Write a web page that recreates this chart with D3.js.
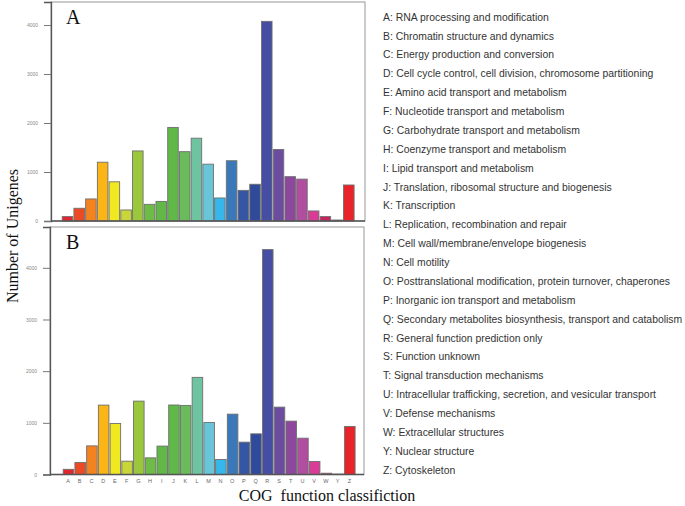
<!DOCTYPE html>
<html>
<head>
<meta charset="utf-8">
<script src="https://cdn.jsdelivr.net/npm/d3@7"></script>
<style>
  body { margin: 0; background: #fff; }
  svg { display: block; }
</style>
</head>
<body>
<div id="chart"></div>
<script>
// COG categories and their descriptions
const categories = ['A','B','C','D','E','F','G','H','I','J','K','L','M','N','O','P','Q','R','S','T','U','V','W','Y','Z'];
const descriptions = [
  'RNA processing and modification',
  'Chromatin structure and dynamics',
  'Energy production and conversion',
  'Cell cycle control, cell division, chromosome partitioning',
  'Amino acid transport and metabolism',
  'Nucleotide transport and metabolism',
  'Carbohydrate transport and metabolism',
  'Coenzyme transport and metabolism',
  'Lipid transport and metabolism',
  'Translation, ribosomal structure and biogenesis',
  'Transcription',
  'Replication, recombination and repair',
  'Cell wall/membrane/envelope biogenesis',
  'Cell motility',
  'Posttranslational modification, protein turnover, chaperones',
  'Inorganic ion transport and metabolism',
  'Secondary metabolites biosynthesis, transport and catabolism',
  'General function prediction only',
  'Function unknown',
  'Signal transduction mechanisms',
  'Intracellular trafficking, secretion, and vesicular transport',
  'Defense mechanisms',
  'Extracellular structures',
  'Nuclear structure',
  'Cytoskeleton'
];

// Number of unigenes per category
const valuesA = [90, 260, 450, 1200, 800, 225, 1430, 340, 400, 1910, 1415, 1690, 1160, 470, 1230, 625, 750, 4075, 1460, 905, 855, 205, 90, 20, 735];
const valuesB = [100, 232, 554, 1343, 988, 258, 1420, 322, 550, 1345, 1337, 1880, 1007, 290, 1168, 626, 787, 4353, 1304, 1033, 703, 252, 25, 8, 930];

const yTicks = [0, 1000, 2000, 3000, 4000];

const barColors = ['#e3262b','#ec4a25','#f4821f','#fbb516','#f0e921','#c9d638','#9bc73c','#6dbc45','#62b847','#5fb848',
                   '#6abb5c','#6ec3a0','#69c6d8','#35b7eb','#3a78ba','#3456a5','#2f4a9a','#464ea3','#6b4c9f','#8d479d',
                   '#b14ea0','#d93b96','#c6255f','#7f7aa0','#e8232a'];

const width = 685;
const height = 506;

const svg = d3.select('#chart').append('svg')
    .attr('width', width)
    .attr('height', height);

// Shared x scale for both panels
const x = d3.scaleBand().domain(categories).range([61.7, 353.6]).paddingInner(0.1);

const color = d3.scaleOrdinal().domain(categories).range(barColors);

// Panel layouts
const panels = [
  { label: 'A', values: valuesA, left: 51, right: 365, top: 2, bottom: 221, max: 4470 },
  { label: 'B', values: valuesB, left: 50, right: 364, top: 227, bottom: 474.5, max: 4790 }
];

panels.forEach((p, pi) => {
  const y = d3.scaleLinear().domain([0, p.max]).range([p.bottom, p.top]);
  const g = svg.append('g');

  // Frame
  g.append('rect')
      .attr('x', p.left).attr('y', p.top)
      .attr('width', p.right - p.left).attr('height', p.bottom - p.top)
      .attr('fill', 'none').attr('stroke', '#a8a8a8').attr('stroke-width', 1.2);

  // Bars
  g.selectAll('rect.bar')
    .data(categories)
    .join('rect')
      .attr('class', 'bar')
      .attr('x', d => x(d) + 0.5 - (p.left - 51))
      .attr('y', (d, i) => y(p.values[i]))
      .attr('width', x.bandwidth())
      .attr('height', (d, i) => y(0) - y(p.values[i]))
      .attr('fill', d => color(d))
      .attr('stroke', '#6f6f6f')
      .attr('stroke-width', 0.9);

  // Y axis
  const yAxis = g.append('g')
      .attr('transform', `translate(${p.left},0)`)
      .call(d3.axisLeft(y).tickValues(yTicks).tickFormat(d3.format('d')).tickSize(7).tickPadding(6));
  yAxis.select('.domain').attr('stroke', '#555').attr('stroke-width', 1.3);
  yAxis.selectAll('.tick line').attr('stroke', '#777');
  yAxis.selectAll('.tick text')
      .attr('fill', '#888')
      .style('font-family', 'Liberation Sans, Arial, sans-serif')
      .style('font-size', '5px');

  // Baseline
  g.append('line')
      .attr('x1', p.left).attr('x2', p.right)
      .attr('y1', y(0)).attr('y2', y(0))
      .attr('stroke', '#555').attr('stroke-width', 1.3);

  // Panel letter
  g.append('text')
      .attr('x', 66).attr('y', p.top + 22)
      .style('font-family', 'Liberation Serif, Times New Roman, serif')
      .style('font-size', '20px')
      .attr('fill', '#111')
      .text(p.label);

  // Category labels under the lower panel
  if (pi === 1) {
    const xAxis = g.append('g')
        .attr('transform', `translate(${-(p.left - 51)},${p.bottom})`)
        .call(d3.axisBottom(x).tickSize(0).tickPadding(5));
    xAxis.select('.domain').remove();
    xAxis.selectAll('.tick text')
        .attr('fill', '#666')
        .style('font-family', 'Liberation Sans, Arial, sans-serif')
        .style('font-size', '5.5px');
  }
});

// Axis titles
svg.append('text')
    .attr('transform', 'translate(18,236) rotate(-90)')
    .attr('text-anchor', 'middle')
    .style('font-family', 'Liberation Serif, Times New Roman, serif')
    .style('font-size', '16px')
    .attr('fill', '#111')
    .text('Number of Unigenes');

svg.append('text')
    .attr('x', 327).attr('y', 501)
    .attr('text-anchor', 'middle')
    .style('font-family', 'Liberation Serif, Times New Roman, serif')
    .style('font-size', '16px')
    .style('white-space', 'pre')
    .attr('fill', '#111')
    .text('COG  function classifiction');

// Legend of category descriptions
const ly = d3.scalePoint().domain(categories).range([17, 470]);
svg.append('g').selectAll('text')
  .data(categories)
  .join('text')
    .attr('x', 383)
    .attr('y', d => ly(d))
    .attr('dy', '0.35em')
    .style('font-family', 'Liberation Sans, Arial, sans-serif')
    .style('font-size', '10.4px')
    .attr('fill', '#333')
    .text((d, i) => `${d}: ${descriptions[i]}`);
</script>
</body>
</html>
